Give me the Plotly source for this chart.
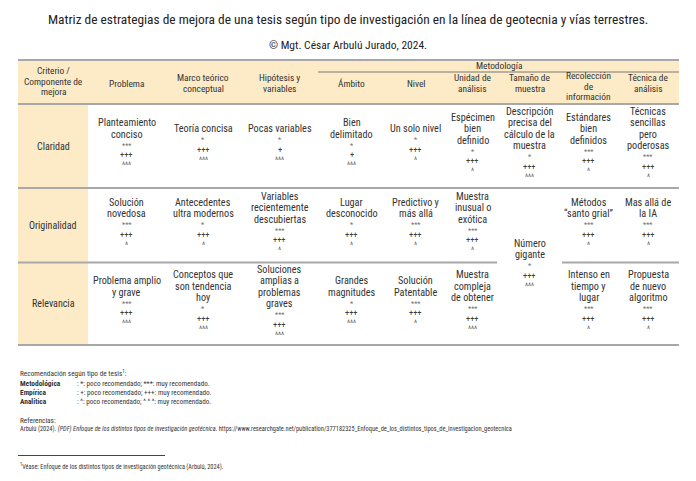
import plotly.graph_objects as go

# ---------------- data ----------------
titulo = "Matriz de estrategias de mejora de una tesis según tipo de investigación en la línea de geotecnia y vías terrestres."
subtitulo = "© Mgt. César Arbulú Jurado, 2024."
encabezado_criterio = "Criterio /<br>Componente de<br>mejora"
grupo_metodologia = "Metodología"
columnas = ["Problema", "Marco teórico<br>conceptual", "Hipótesis y<br>variables", "Ámbito", "Nivel",
            "Unidad de<br>análisis", "Tamaño de<br>muestra", "Recolección<br>de<br>información",
            "Técnica de<br>análisis"]
criterios = ["Claridad", "Originalidad", "Relevancia"]

claridad_texto = ["Planteamiento<br>conciso", "Teoría concisa", "Pocas variables", "Bien<br>delimitado",
                  "Un solo nivel", "Espécimen<br>bien<br>definido",
                  "Descripción<br>precisa del<br>cálculo de la<br>muestra", "Estándares<br>bien<br>definidos",
                  "Técnicas<br>sencillas<br>pero<br>poderosas"]
claridad_metodologica = ["***", "*", "*", "*", "*", "*", "*", "***", "***"]
claridad_empirica = ["+++", "+++", "+", "+", "+++", "+++", "+++", "+++", "+++"]
claridad_analitica = ["^^^", "^^^", "^^^", "^^^", "^", "^", "^^^", "^", "^"]

originalidad_texto = ["Solución<br>novedosa", "Antecedentes<br>ultra modernos",
                      "Variables<br>recientemente<br>descubiertas", "Lugar<br>desconocido",
                      "Predictivo y<br>más allá", "Muestra<br>inusual o<br>exótica", "Número<br>gigante",
                      "Métodos<br>“santo grial”", "Mas allá de<br>la IA"]
originalidad_metodologica = ["***", "*", "***", "*", "***", "***", "*", "***", "***"]
originalidad_empirica = ["+++", "+++", "+++", "+++", "+++", "+++", "+++", "+++", "+++"]
originalidad_analitica = ["^", "^", "^", "^", "^", "^", "^^^", "^", "^"]

relevancia_texto = ["Problema amplio<br>y grave", "Conceptos que<br>son tendencia<br>hoy",
                    "Soluciones<br>amplias a<br>problemas<br>graves", "Grandes<br>magnitudes",
                    "Solución<br>Patentable", "Muestra<br>compleja<br>de obtener", None,
                    "Intenso en<br>tiempo y<br>lugar", "Propuesta<br>de nuevo<br>algoritmo"]
relevancia_metodologica = ["***", "*", "***", "*", "***", "***", None, "***", "***"]
relevancia_empirica = ["+++", "+++", "+++", "+++", "+++", "+++", None, "+++", "+++"]
relevancia_analitica = ["^^^", "^^^", "^^^", "^^^", "^", "^^^", None, "^", "^"]

leyenda_titulo = "Recomendación según tipo de tesis<sup>1</sup>:"
leyenda_tipos = ["Metodológica", "Empírica", "Analítica"]
leyenda_textos = [": *: poco recomendado; ***: muy recomendado.",
                  ": +: poco recomendado; +++: muy recomendado.",
                  ": ^: poco recomendado; ^ ^ ^: muy recomendado."]
referencias_titulo = "Referencias:"
referencia = ("Arbulú (2024). <i>(PDF) Enfoque de los distintos tipos de investigación geotécnica.</i> "
              "https://www.researchgate.net/publication/377182325_Enfoque_de_los_distintos_tipos_de_investigacion_geotecnica")
nota_pie = "<sup>1</sup>Véase: Enfoque de los distintos tipos de investigación geotécnica (Arbulú, 2024)."

# ---------------- layout ----------------
W, H = 696, 481
FONT = "Roboto Condensed, Roboto, Liberation Sans, sans-serif"
TXT = "#333333"
YELLOW = "#FCEBC6"
LINE = "#A8A8A8"

col_edges = [18, 88, 165, 241, 318, 385, 446, 499, 560, 617, 679]
row_edges = [104, 188, 262.5, 345]
head_top, met_line = 60, 72
head_center = [83, 83, 83, 83, 83, 83, 83, 86, 83]

fig = go.Figure()
shapes = []
ann = []


def add_text(x, y, t, size, color=TXT, xanchor="center"):
    ann.append(dict(x=x, y=y, xref="x", yref="y", text=t, showarrow=False,
                    xanchor=xanchor, yanchor="middle",
                    font=dict(family=FONT, size=size, color=color)))


# backgrounds
shapes.append(dict(type="rect", x0=col_edges[0], x1=col_edges[-1], y0=head_top, y1=row_edges[0],
                   fillcolor=YELLOW, line_width=0, layer="below"))
shapes.append(dict(type="rect", x0=col_edges[0], x1=col_edges[1], y0=row_edges[0], y1=row_edges[-1],
                   fillcolor=YELLOW, line_width=0, layer="below"))


def hline(x0, x1, y, color=LINE, width=2):
    shapes.append(dict(type="line", x0=x0, x1=x1, y0=y, y1=y, line=dict(color=color, width=width)))


hline(col_edges[0], col_edges[-1], head_top)
hline(col_edges[4], col_edges[-1], met_line, "#777777", 1)
hline(col_edges[0], col_edges[-1], row_edges[0])
hline(col_edges[0], col_edges[-1], row_edges[1])
hline(col_edges[0], col_edges[7] - 2, row_edges[2])       # broken line: merged cell
hline(col_edges[8] + 2, col_edges[-1], row_edges[2])
hline(col_edges[0], col_edges[-1], row_edges[3])

# title
add_text(W / 2, 19, titulo, 13.4, "#222222")
add_text(W / 2, 45, subtitulo, 11.5, "#222222")

HL = 10.5


def multiline(xc, yc, t, size, spacing, color=TXT):
    parts = t.split("<br>")
    n = len(parts)
    for i, p in enumerate(parts):
        add_text(xc, yc + (i - (n - 1) / 2) * spacing, p, size, color)


xc0 = (col_edges[0] + col_edges[1]) / 2
multiline(xc0, 81, encabezado_criterio, 9.4, HL)
multiline((col_edges[4] + col_edges[-1]) / 2, 65.5, grupo_metodologia, 9.4, HL)
for j, c in enumerate(columnas):
    xc = (col_edges[j + 1] + col_edges[j + 2]) / 2
    multiline(xc, head_center[j], c, 9.4, HL)

# body
TL, GAP, SL = 11.5, 11.0, 10.0
filas = [
    (claridad_texto, claridad_metodologica, claridad_empirica, claridad_analitica),
    (originalidad_texto, originalidad_metodologica, originalidad_empirica, originalidad_analitica),
    (relevancia_texto, relevancia_metodologica, relevancia_empirica, relevancia_analitica),
]
for i, (crit, fila) in enumerate(zip(criterios, filas)):
    y0, y1 = row_edges[i], row_edges[i + 1]
    add_text(xc0, (y0 + y1) / 2, crit, 10)
    textos, met, emp, ana = fila
    for j in range(len(columnas)):
        if textos[j] is None:
            continue
        yy1 = y1
        if i + 1 < len(filas) and filas[i + 1][0][j] is None:
            yy1 = row_edges[i + 2]
        yc = (y0 + yy1) / 2 - 2
        xc = (col_edges[j + 1] + col_edges[j + 2]) / 2
        lines = textos[j].split("<br>")
        n = len(lines)
        total = (n - 1) * TL + GAP + 2 * SL
        top = yc - total / 2
        for k, p in enumerate(lines):
            add_text(xc, top + k * TL, p, 10.2)
        ys = top + (n - 1) * TL + GAP
        add_text(xc, ys, met[j], 7.4, "#6f6f6f")
        add_text(xc, ys + SL, emp[j], 8.4, "#3c3c3c")
        add_text(xc, ys + 2 * SL, ana[j], 8.2, "#5f5f5f")

# footer
add_text(18, 373, leyenda_titulo, 7.3, xanchor="left")
for k, (tp, tx) in enumerate(zip(leyenda_tipos, leyenda_textos)):
    yk = 383 + k * 9.3
    add_text(18, yk, "<b>" + tp + "</b>", 7.4, xanchor="left")
    add_text(75, yk, tx, 7.1, xanchor="left")
add_text(18, 420, referencias_titulo, 7.3, xanchor="left")
add_text(18, 429, referencia, 6.4, xanchor="left")
hline(18, 165, 455.5, "#444444", 1)
add_text(18, 466, nota_pie, 6.3, xanchor="left")

fig.update_layout(
    width=W, height=H, margin=dict(l=0, r=0, t=0, b=0),
    paper_bgcolor="white", plot_bgcolor="white",
    xaxis=dict(range=[0, W], visible=False, fixedrange=True),
    yaxis=dict(range=[H, 0], visible=False, fixedrange=True),
    shapes=shapes, annotations=ann, showlegend=False,
)
fig.write_html("out.html", config={"displayModeBar": False},
               post_script="document.body.style.margin='0px';document.body.style.overflow='hidden';")
